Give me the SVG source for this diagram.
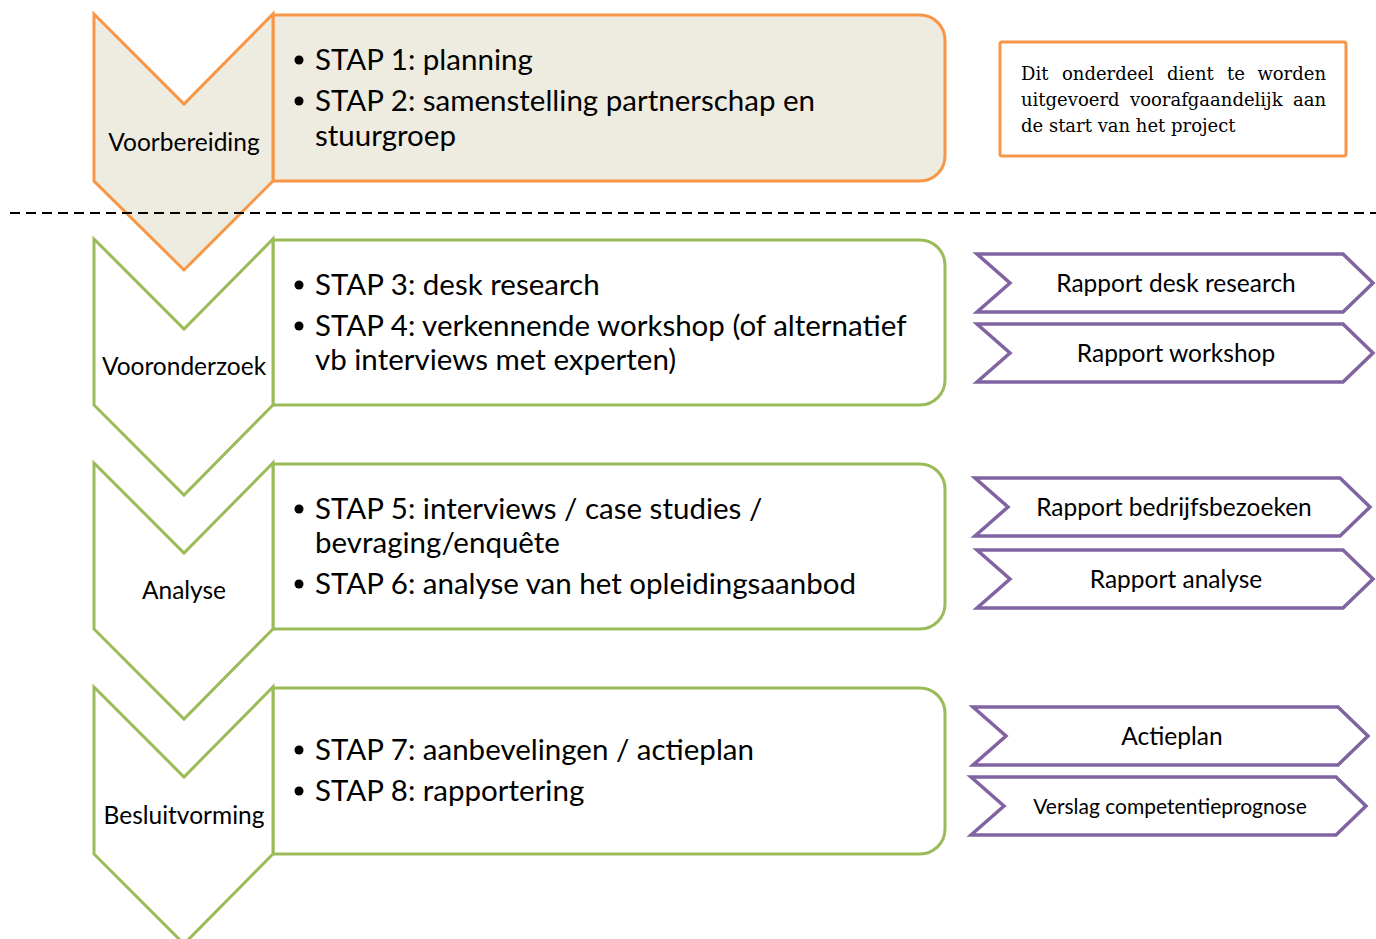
<svg xmlns="http://www.w3.org/2000/svg" width="1376" height="939" viewBox="0 0 1376 939">
<style>
  .txt { font-family: Lato, "Open Sans", "Liberation Sans", sans-serif; fill: #000; }
  .step { font-size: 29.5px; }
  .lbl { font-size: 24.5px; text-anchor: middle; }
  .out { font-size: 24.5px; text-anchor: middle; }
  .note { font-family: "DejaVu Serif", "Liberation Serif", serif; font-size: 18px; fill: #000; }
  .og { fill: #EEECE1; stroke: #F79646; stroke-width: 3; stroke-linejoin: miter; }
  .gr { fill: #FFFFFF; stroke: #9BBB59; stroke-width: 3; stroke-linejoin: miter; }
  .pu { fill: #FFFFFF; stroke: #8064A2; stroke-width: 3.5; stroke-linejoin: miter; }
</style>
<rect width="1376" height="939" fill="#FFFFFF"/>

<g id="phase4">
  <path class="gr" d="M273,688 H920 A25,25 0 0 1 945,713 V829 A25,25 0 0 1 920,854 H273 Z"/>
  <path class="gr" d="M94,687 L184,777 L273,687 L273,854 L184,944 L94,854 Z"/>
  <text class="txt lbl" x="184" y="824">Besluitvorming</text>
  <text class="txt step" x="315" y="760">STAP 7: aanbevelingen / actieplan</text>
  <text class="txt step" x="315" y="801">STAP 8: rapportering</text>
  <circle cx="299" cy="750" r="4.5"/>
  <circle cx="299" cy="791" r="4.5"/>
</g>

<g id="phase3">
  <path class="gr" d="M273,464 H920 A25,25 0 0 1 945,489 V604 A25,25 0 0 1 920,629 H273 Z"/>
  <path class="gr" d="M94,463 L184,553 L273,463 L273,629 L184,719 L94,629 Z"/>
  <text class="txt lbl" x="184" y="599">Analyse</text>
  <text class="txt step" x="315" y="519">STAP 5: interviews / case studies /</text>
  <text class="txt step" x="315" y="553">bevraging/enquête</text>
  <text class="txt step" x="315" y="594">STAP 6: analyse van het opleidingsaanbod</text>
  <circle cx="299" cy="509" r="4.5"/>
  <circle cx="299" cy="584" r="4.5"/>
</g>

<g id="phase2">
  <path class="gr" d="M273,240 H920 A25,25 0 0 1 945,265 V380 A25,25 0 0 1 920,405 H273 Z"/>
  <path class="gr" d="M94,239 L184,329 L273,239 L273,405 L184,495 L94,405 Z"/>
  <text class="txt lbl" x="184" y="375">Vooronderzoek</text>
  <text class="txt step" x="315" y="295">STAP 3: desk research</text>
  <text class="txt step" x="315" y="336">STAP 4: verkennende workshop (of alternatief</text>
  <text class="txt step" x="315" y="370">vb interviews met experten)</text>
  <circle cx="299" cy="285" r="4.5"/>
  <circle cx="299" cy="326" r="4.5"/>
</g>

<g id="phase1">
  <path class="og" d="M273,15 H920 A25,25 0 0 1 945,40 V156 A25,25 0 0 1 920,181 H273 Z"/>
  <path class="og" d="M94,14 L184,104 L273,14 L273,181 L184,270 L94,181 Z"/>
  <text class="txt lbl" x="184" y="151">Voorbereiding</text>
  <text class="txt step" x="315" y="70">STAP 1: planning</text>
  <text class="txt step" x="315" y="111">STAP 2: samenstelling partnerschap en</text>
  <text class="txt step" x="315" y="146">stuurgroep</text>
  <circle cx="299" cy="60" r="4.5"/>
  <circle cx="299" cy="101" r="4.5"/>
</g>

<g id="connectors">
  <line x1="10" y1="213" x2="1376" y2="213" stroke="#000" stroke-width="2" stroke-dasharray="10,6"/>
</g>

<g id="note">
  <rect x="1000" y="42" width="346" height="114" rx="2" fill="#FFFFFF" stroke="#F79646" stroke-width="3"/>
  <text class="note" y="80"><tspan x="1021">Dit</tspan><tspan x="1062">onderdeel</tspan><tspan x="1167">dient</tspan><tspan x="1227">te</tspan><tspan x="1326" text-anchor="end">worden</tspan></text>
  <text class="note" y="106"><tspan x="1021">uitgevoerd</tspan><tspan x="1130">voorafgaandelijk</tspan><tspan x="1326" text-anchor="end">aan</tspan></text>
  <text class="note" x="1021" y="132">de start van het project</text>
</g>

<g id="out1">
  <path class="pu" d="M977,254 H1343 L1373,283 L1343,312 H977 L1010,283 Z"/>
  <text class="txt out" x="1176" y="292">Rapport desk research</text>
</g>
<g id="out2">
  <path class="pu" d="M977,324 H1343 L1373,353 L1343,382 H977 L1010,353 Z"/>
  <text class="txt out" x="1176" y="362">Rapport workshop</text>
</g>
<g id="out3">
  <path class="pu" d="M975,478 H1340 L1370,507 L1340,536 H975 L1008,507 Z"/>
  <text class="txt out" x="1174" y="516">Rapport bedrijfsbezoeken</text>
</g>
<g id="out4">
  <path class="pu" d="M977,550 H1343 L1373,579 L1343,608 H977 L1010,579 Z"/>
  <text class="txt out" x="1176" y="588">Rapport analyse</text>
</g>
<g id="out5">
  <path class="pu" d="M973,707 H1338 L1368,736 L1338,765 H973 L1006,736 Z"/>
  <text class="txt out" x="1172" y="745">Actieplan</text>
</g>
<g id="out6">
  <path class="pu" d="M971,777 H1336 L1366,806 L1336,835 H971 L1004,806 Z"/>
  <text class="txt out" x="1170" y="814" style="font-size:21px">Verslag competentieprognose</text>
</g>
</svg>
